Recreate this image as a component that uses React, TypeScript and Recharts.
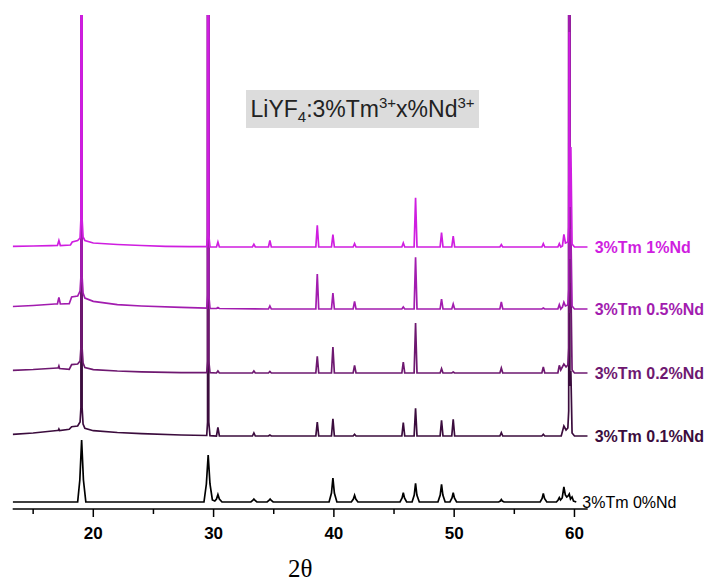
import React from 'react';
import { LineChart, Line, XAxis, YAxis, LabelList } from 'recharts';

// off-scale intensity (peaks that run past the top of the frame)
const OFF = 3000;

const xDomain: [number, number] = [13.3, 61.1];
const yDomain: [number, number] = [0, 494];
const majorTicks = [20, 30, 40, 50, 60];
const allTicks = [15, 20, 25, 30, 35, 40, 45, 50, 55, 60];

const seriesNames = ['3%Tm 0%Nd', '3%Tm 0.1%Nd', '3%Tm 0.2%Nd', '3%Tm 0.5%Nd', '3%Tm 1%Nd'];
const seriesOffsets = [7, 73, 136, 200, 262];
const seriesColors = ['#000000', '#3b0c3d', '#6e1870', '#a21caf', '#cf1ee0'];

// [2θ, intensity] pairs
const nd0: [number, number][] = [
  [13.3, 0], [18.7, 0], [18.88, 22], [19.03, 62], [19.18, 22], [19.38, 0],
  [29.2, 0], [29.4, 18], [29.55, 47], [29.7, 18], [29.9, 2], [30.1, 1], [30.24, 3], [30.36, 7.5], [30.48, 3], [30.7, 0],
  [33.1, 0], [33.25, 1.5], [33.35, 3], [33.45, 1.5], [33.6, 0],
  [34.45, 0], [34.6, 1.5], [34.7, 3], [34.8, 1.5], [34.95, 0],
  [39.6, 0], [39.8, 9], [39.92, 24], [40.04, 9], [40.25, 0],
  [41.45, 0], [41.62, 3], [41.72, 6.7], [41.82, 3], [42.0, 0],
  [45.5, 0], [45.67, 4], [45.77, 9.3], [45.87, 4], [46.05, 0],
  [46.5, 0], [46.68, 7], [46.79, 18.7], [46.9, 7], [47.1, 0],
  [48.65, 0], [48.84, 7], [48.95, 17.7], [49.06, 7], [49.25, 0],
  [49.65, 0], [49.82, 4], [49.92, 9.3], [50.02, 4], [50.2, 0],
  [53.7, 0], [53.84, 1], [53.92, 2.5], [54.0, 1], [54.15, 0],
  [57.15, 0], [57.31, 3.5], [57.41, 8.5], [57.51, 3.5], [57.7, 0],
  [58.5, 0], [58.64, 2], [58.74, 4.3], [58.84, 2], [58.98, 4], [59.12, 15], [59.24, 7],
  [59.36, 5], [59.47, 6], [59.57, 8], [59.67, 3], [59.8, 5], [59.92, 1], [60.15, 0],
];

const nd01: [number, number][] = [
  [13.3, 1.7], [15, 3], [17, 5.5], [17.08, 5.5], [17.14, 7], [17.2, 5.5], [18.0, 6.7], [18.2, 9.3],
  [18.7, 10], [18.9, 14], [18.97, 28], [19.02, OFF], [19.07, 28], [19.15, 12], [19.3, 7.7], [20, 5.3], [22, 3.5], [24, 2.3],
  [27.3, 1], [29.43, 0.5], [29.5, 14], [29.55, OFF], [29.6, 14], [29.7, 0.3], [30.24, 0], [30.36, 8.7], [30.48, 0],
  [33.23, 0], [33.35, 3], [33.47, 0], [34.56, 0], [34.68, 1], [34.8, 0],
  [38.5, 0], [38.62, 14], [38.74, 0], [39.8, 0], [39.92, 17.3], [40.04, 0],
  [41.6, 0], [41.72, 1.7], [41.84, 0], [45.65, 0], [45.77, 13.3], [45.89, 0],
  [46.67, 0], [46.79, 27.7], [46.91, 0], [48.83, 0], [48.95, 15.7], [49.07, 0],
  [49.8, 0], [49.92, 16.7], [50.04, 0], [53.8, 0], [53.92, 3.3], [54.04, 0],
  [57.29, 0], [57.41, 1.7], [57.53, 0], [58.9, 0], [59.12, 10], [59.3, 6], [59.45, 8],
  [59.52, 25], [59.57, OFF], [59.62, 50], [59.7, 65], [59.8, 3], [60.0, 0], [61.1, 0],
];

const nd02: [number, number][] = [
  [13.3, 2.7], [15, 3.5], [17, 5], [17.08, 5], [17.14, 7], [17.2, 4.5], [18.0, 3.7], [18.2, 8.4],
  [18.7, 9], [18.9, 12], [18.97, 25], [19.02, OFF], [19.07, 25], [19.15, 10], [19.3, 5.4], [20, 3.4], [22, 2], [24, 1.2],
  [27.3, 0.4], [29.43, 0.3], [29.5, 12], [29.55, OFF], [29.6, 12], [29.7, 0.3], [30.24, 0], [30.36, 2], [30.48, 0],
  [33.23, 0], [33.35, 2], [33.47, 0], [34.56, 0], [34.68, 1.5], [34.8, 0],
  [38.5, 0], [38.62, 16.7], [38.74, 0], [39.8, 0], [39.92, 26], [40.04, 0],
  [41.6, 0], [41.72, 7.7], [41.84, 0], [45.65, 0], [45.77, 11], [45.89, 0],
  [46.67, 0], [46.79, 50], [46.91, 0], [48.83, 0], [48.95, 4.3], [49.07, 0],
  [49.8, 0], [49.92, 1], [50.04, 0], [53.8, 0], [53.92, 5], [54.04, 0],
  [57.29, 0], [57.41, 6], [57.53, 0], [58.62, 0], [58.74, 7.7], [58.86, 3], [59.12, 9], [59.3, 6], [59.45, 8],
  [59.52, 25], [59.57, OFF], [59.62, 60], [59.7, 90], [59.8, 3], [60.0, 0], [61.1, 0],
];

const nd05: [number, number][] = [
  [13.3, 2.5], [15, 3.5], [16.8, 5], [17.02, 5], [17.14, 11.6], [17.26, 5], [18.0, 5.3], [18.2, 12],
  [18.7, 13], [18.9, 18], [18.97, 32], [19.02, OFF], [19.07, 32], [19.15, 16], [19.3, 11], [20, 7.6], [22, 4.3], [24, 3],
  [27.3, 1.6], [29.43, 0.8], [29.5, 14], [29.55, OFF], [29.6, 14], [29.7, 0.6], [30.24, 0.5], [30.36, 1.5], [30.48, 0.5],
  [34.56, 0], [34.68, 3], [34.8, 0],
  [38.5, 0], [38.62, 35], [38.74, 0], [39.8, 0], [39.92, 16], [40.04, 0],
  [41.6, 0], [41.72, 7.7], [41.84, 0], [45.65, 0], [45.77, 2], [45.89, 0],
  [46.67, 0], [46.79, 51.7], [46.91, 0], [48.83, 0], [48.95, 10], [49.07, 0],
  [49.8, 0], [49.92, 5], [50.04, 0], [53.8, 0], [53.92, 7], [54.04, 0],
  [57.29, 0], [57.41, 1], [57.53, 0], [58.62, 0], [58.74, 4.3], [58.86, 0], [59.0, 2], [59.12, 6.7],
  [59.25, 3], [59.45, 4], [59.52, 20], [59.57, OFF], [59.62, 50], [59.7, 80], [59.8, 3], [60.0, 0], [61.1, 0],
];

const nd1: [number, number][] = [
  [13.3, 0.7], [15, 1], [16.5, 1.3], [17.02, 1.5], [17.14, 6.5], [17.26, 1.5], [18.1, 2], [18.25, 5],
  [18.7, 6.5], [18.9, 9], [18.97, 28], [19.02, OFF], [19.07, 28], [19.15, 10], [19.3, 6.5], [20, 4], [22, 2.5], [24, 1.5],
  [26, 0.7], [28, 0.3], [29.43, 0.3], [29.5, 12], [29.55, OFF], [29.6, 12], [29.7, 0.2], [30.24, 0], [30.36, 5], [30.48, 0],
  [33.23, 0], [33.35, 2.7], [33.47, 0], [34.56, 0], [34.68, 6.5], [34.8, 0],
  [38.5, 0], [38.62, 21.7], [38.74, 0], [39.8, 0], [39.92, 12.3], [40.04, 0],
  [41.6, 0], [41.72, 3.3], [41.84, 0], [45.65, 0], [45.77, 4], [45.89, 0],
  [46.67, 0], [46.79, 49.3], [46.91, 0], [48.83, 0], [48.95, 14.3], [49.07, 0],
  [49.8, 0], [49.92, 11], [50.04, 0], [53.8, 0], [53.92, 2.3], [54.04, 0],
  [57.29, 0], [57.41, 3.3], [57.53, 0], [58.62, 0], [58.74, 3.3], [58.86, 0], [59.0, 1], [59.12, 12.7],
  [59.25, 4], [59.45, 5], [59.52, 20], [59.57, 215], [59.62, 40], [59.7, 100], [59.8, 3], [60.0, 0], [61.1, 0],
];

const seriesRaw = [nd0, nd01, nd02, nd05, nd1];

const SANS = '"Liberation Sans", Arial, Helvetica, sans-serif';
const SERIF = '"Liberation Serif", "Times New Roman", serif';

const seriesData = seriesRaw.map((pts, i) =>
  pts.map(([x, v]) => ({ x, y: v + seriesOffsets[i] }))
);

const Tick = (props: any) => {
  const { x, y, payload } = props;
  const v = payload.value;
  const major = majorTicks.includes(v);
  return (
    <g>
      <line x1={x} x2={x} y1={y} y2={y + (major ? 8 : 5)} stroke="#000" strokeWidth={1.5} />
      {major && (
        <text x={x} y={y + 30} textAnchor="middle" fontFamily={SANS} fontSize={17} fontWeight="bold" fill="#000">
          {v}
        </text>
      )}
    </g>
  );
};

const makeLabel = (i: number) => (props: any) => {
  const { x, y, index } = props;
  if (index !== seriesData[i].length - 1) return null;
  return (
    <text
      x={x + (i === 0 ? 6 : 7)}
      y={y}
      dy="0.36em"
      fontFamily={SANS}
      fontSize={16}
      fontWeight={i === 0 ? 'normal' : 'bold'}
      fill={seriesColors[i]}
    >
      {seriesNames[i]}
    </text>
  );
};

export default function App() {
  return (
    <div style={{ position: 'relative', width: 705, height: 575 }}>
      <LineChart width={705} height={575} margin={{ top: 7, left: 4.7, right: 125.3, bottom: 0 }}>
        <XAxis
          type="number"
          dataKey="x"
          domain={xDomain}
          allowDataOverflow
          ticks={allTicks}
          interval={0}
          tickSize={0}
          tickMargin={0}
          tickLine={false}
          tick={<Tick />}
          height={74}
          axisLine={{ stroke: '#000', strokeWidth: 1.5 }}
          label={{ value: '2θ', position: 'insideBottom', offset: 6, fontSize: 25, fontFamily: SERIF, fill: '#000' }}
        />
        <YAxis type="number" hide domain={yDomain} allowDataOverflow />
        {seriesData.map((d, i) => (
          <Line
            key={seriesNames[i]}
            data={d}
            dataKey="y"
            type="linear"
            stroke={seriesColors[i]}
            strokeWidth={1.7}
            dot={false}
            isAnimationActive={false}
          >
            <LabelList dataKey="y" content={makeLabel(i)} />
          </Line>
        ))}
      </LineChart>
      <svg width={705} height={575} style={{ position: 'absolute', left: 0, top: 0, pointerEvents: 'none' }}>
        <rect x={238} y={82} width={233} height={38} fill="#dcdcdc" />
        <text x={242.5} y={109} fontFamily={SANS} fontSize={23} fill="#222">
          <tspan>LiYF</tspan>
          <tspan fontSize={15} dy={5}>4</tspan>
          <tspan dy={-5}>:3%Tm</tspan>
          <tspan fontSize={15} dy={-9}>3+</tspan>
          <tspan dy={9}>x%Nd</tspan>
          <tspan fontSize={15} dy={-9}>3+</tspan>
        </text>
      </svg>
    </div>
  );
}
